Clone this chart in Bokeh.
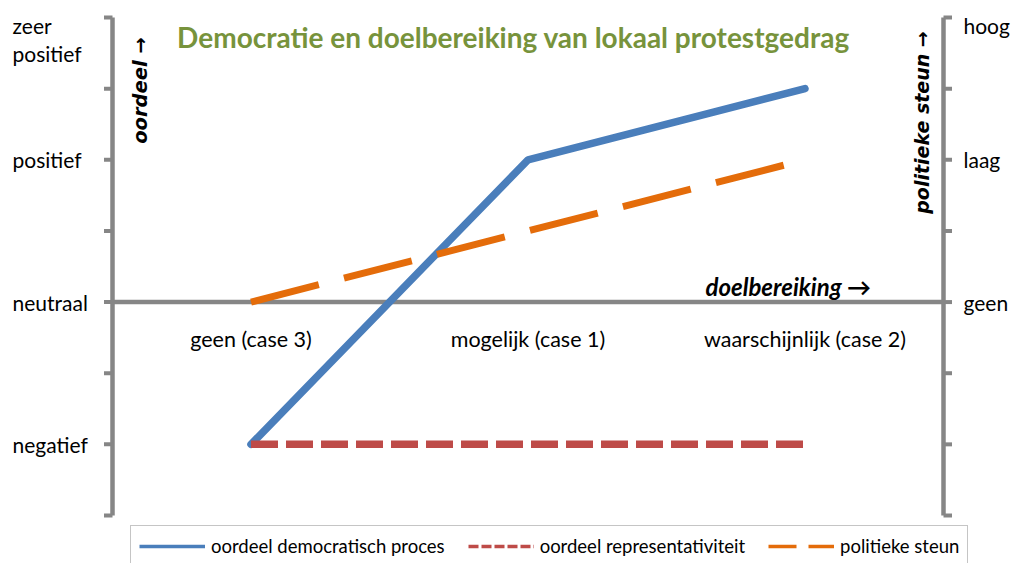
import math
from bokeh.plotting import figure
from bokeh.models import Legend, LegendItem, ColumnDataSource, Range1d
from bokeh.core.properties import value
from bokeh.embed import file_html
from bokeh.resources import INLINE

# ---------------- data ----------------
categories = ["geen (case 3)", "mogelijk (case 1)", "waarschijnlijk (case 2)"]
x_pos = [0, 1, 2]
oordeel_democratisch_proces = [-2, 2, 3]
oordeel_representativiteit = [-2, -2, -2]
politieke_steun = [0, 1, 2]

axis_ticks = [-3, -2, -1, 0, 1, 2, 3, 4]
left_tick_values = [-2, 0, 2, 4]
left_tick_labels = ["negatief", "neutraal", "positief", "zeer\npositief"]
right_tick_values = [0, 2, 4]
right_tick_labels = ["geen", "laag", "hoog"]

series_labels = ["oordeel democratisch proces", "oordeel representativiteit", "politieke steun"]
title_text = "Democratie en doelbereiking van lokaal protestgedrag"
y_title_left = "oordeel \u2192"
y_title_right = "politieke steun \u2192"
x_title = "doelbereiking \u2192"

# ---------------- style ----------------
BLUE = "#4A7EBB"
RED = "#BE4B48"
ORANGE = "#E46C0A"
GRAY = "#868686"
GREEN = "#77933C"
FONT = "Lato"
NAN = float("nan")

W, H = 1017, 563
X0, X1, Y0, Y1 = -0.5, 2.5, -3, 4          # value extent of the axes
PX_L, PX_R, PX_T, PX_B = 112, 943, 17, 515  # where the axes sit on the canvas
SX = (PX_R - PX_L) / (X1 - X0)
SY = (PX_B - PX_T) / (Y1 - Y0)

def dx(px):
    return X0 + (px - PX_L) / SX

def dy(py):
    return Y1 - (py - PX_T) / SY

p = figure(width=W, height=H,
           x_range=Range1d(dx(0), dx(W)), y_range=Range1d(dy(H), dy(0)),
           output_backend="svg", toolbar_location=None,
           x_axis_location=None, y_axis_location=None,
           min_border=0, min_border_left=0, min_border_right=0,
           min_border_top=0, min_border_bottom=0)
for g in p.grid:
    g.visible = False
p.outline_line_color = None
p.background_fill_color = "white"
p.border_fill_color = "white"

# ---------------- axes (left, right, horizontal) ----------------
tick_len = 8.5 / SX
AXW = 4.5
p.segment(x0=[X0, X1], y0=[Y0, Y0], x1=[X0, X1], y1=[Y1, Y1],
          line_color=GRAY, line_width=AXW)
p.segment(x0=[X0 - tick_len] * len(axis_ticks), y0=axis_ticks,
          x1=[X0] * len(axis_ticks), y1=axis_ticks, line_color=GRAY, line_width=4)
p.segment(x0=[X1] * len(axis_ticks), y0=axis_ticks,
          x1=[X1 + tick_len] * len(axis_ticks), y1=axis_ticks, line_color=GRAY, line_width=4)
p.segment(x0=[X0], y0=[0], x1=[X1], y1=[0], line_color=GRAY, line_width=AXW)

# ---------------- series ----------------
src = ColumnDataSource(dict(x=x_pos, dem=oordeel_democratisch_proces,
                            rep=oordeel_representativiteit, pol=politieke_steun))
p.line("x", "dem", source=src, line_color=BLUE, line_width=7.5,
       line_cap="round", line_join="round")
p.line("x", "rep", source=src, line_color=RED, line_width=7.5, line_dash="27 8")
p.line("x", "pol", source=src, line_color=ORANGE, line_width=7, line_dash="70 26")

# legend samples (thin lines, as in the reference legend)
l1 = p.line(x=[NAN, NAN], y=[NAN, NAN], line_color=BLUE, line_width=3.5)
l2 = p.line(x=[NAN, NAN], y=[NAN, NAN], line_color=RED, line_width=3.5, line_dash="10 3")
l3 = p.line(x=[NAN, NAN], y=[NAN, NAN], line_color=ORANGE, line_width=3.5, line_dash="28 12")
legend = Legend(items=[LegendItem(label=series_labels[0], renderers=[l1]),
                       LegendItem(label=series_labels[1], renderers=[l2]),
                       LegendItem(label=series_labels[2], renderers=[l3])],
                location=(130, -4), orientation="horizontal",
                glyph_width=66, glyph_height=24, label_height=24,
                label_standoff=6, spacing=23, padding=8, margin=0,
                label_text_font=FONT, label_text_font_size="18.5px",
                label_text_color="#000000",
                border_line_color="#8C8C8C", border_line_width=1,
                background_fill_color="white", background_fill_alpha=1)
p.add_layout(legend)

# ---------------- category labels ----------------
cat_src = ColumnDataSource(dict(x=x_pos, y=[dy(338)] * len(x_pos), t=categories))
p.text("x", "y", text="t", source=cat_src, text_align="center", text_baseline="middle",
       text_font=value(FONT), text_font_size="21.5px", text_color="#000000")

# ---------------- axis value labels ----------------
for v, t in zip(left_tick_values, left_tick_labels):
    top = (v == Y1)
    p.text(x=[dx(12)], y=[dy(12) if top else v], text=[t], text_align="left",
           text_baseline="top" if top else "middle", text_line_height=1.15,
           text_font=value(FONT), text_font_size="21px", text_color="#000000")

for v, t in zip(right_tick_values, right_tick_labels):
    top = (v == Y1)
    p.text(x=[dx(963)], y=[dy(25) if top else v], text=[t], text_align="left",
           text_baseline="middle",
           text_font=value(FONT), text_font_size="21px", text_color="#000000")

# ---------------- titles ----------------
p.text(x=[dx(513)], y=[dy(36)], text=[title_text], text_align="center",
       text_baseline="middle", text_font=value(FONT), text_font_style="bold",
       text_font_size="28px", text_color=GREEN)
p.text(x=[dx(140)], y=[dy(90)], text=[y_title_left], angle=math.pi / 2,
       text_align="center", text_baseline="middle", text_font=value("DejaVu Sans"),
       text_font_style="bold italic", text_font_size="19.5px", text_color="#000000")
p.text(x=[dx(921)], y=[dy(122)], text=[y_title_right], angle=math.pi / 2,
       text_align="center", text_baseline="middle", text_font=value("DejaVu Sans"),
       text_font_style="bold italic", text_font_size="19px", text_color="#000000")
p.text(x=[dx(705)], y=[dy(286)], text=[x_title], text_align="left",
       text_baseline="middle", text_font=value(FONT), text_font_style="bold italic",
       text_font_size="24px", text_color="#000000")

open("out.html", "w").write(file_html(p, INLINE))
